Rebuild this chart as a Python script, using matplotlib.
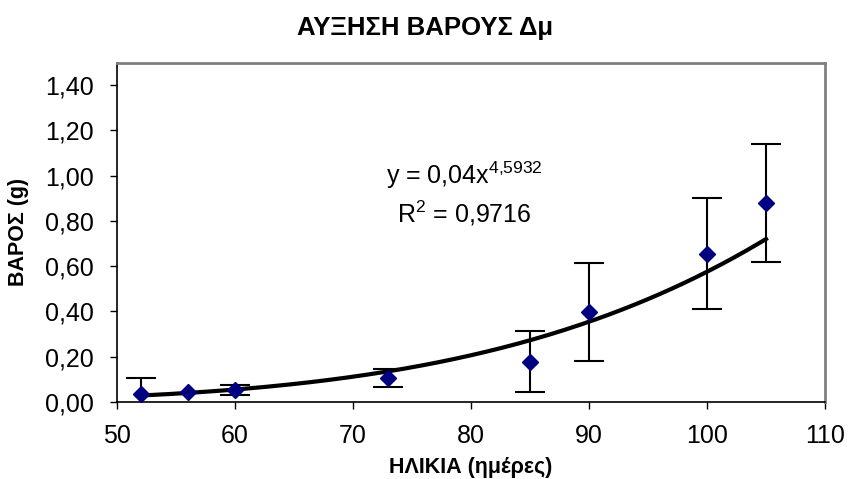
import numpy as np
import matplotlib
matplotlib.use('Agg')
import matplotlib.pyplot as plt
from matplotlib.ticker import FuncFormatter, MultipleLocator

plt.rcParams['font.family'] = ['Liberation Sans', 'DejaVu Sans']
plt.rcParams['mathtext.fontset'] = 'custom'
plt.rcParams['mathtext.rm'] = 'Liberation Sans'
plt.rcParams['mathtext.it'] = 'Liberation Sans'

# age (days) and weight (g)
age = [52, 56, 60, 73, 85, 90, 100, 105]
weight = [0.035, 0.044, 0.053, 0.106, 0.177, 0.398, 0.655, 0.88]
# no visible error bar at 56 days
weight_err = [0.07, np.nan, 0.02, 0.04, 0.135, 0.215, 0.245, 0.26]

# power trend line, as shown in the chart label
trend_exp = 4.5932
trend_at_end = 0.72

x_fit = np.linspace(age[0], age[-1], 200)
coef = trend_at_end / age[-1] ** trend_exp
y_fit = coef * x_fit ** trend_exp

fig = plt.figure(figsize=(8.5, 4.79), dpi=100)
ax = fig.add_axes([117 / 850, 1 - 402 / 479, (825 - 117) / 850, (402 - 62.5) / 479])

ax.plot(x_fit, y_fit, color='black', lw=3, zorder=2)
ax.errorbar(age, weight, yerr=weight_err, fmt='none', ecolor='black',
            elinewidth=1.5, capsize=11, capthick=1.5, zorder=3)
ax.plot(age, weight, linestyle='none', marker='D', markersize=8,
        color='#000080', zorder=4)

ax.set_xlim(50, 110)
ax.set_ylim(0, 1.5)
ax.xaxis.set_major_locator(MultipleLocator(10))
ax.set_yticks(np.arange(0, 1.41, 0.2))
ax.yaxis.set_major_formatter(FuncFormatter(lambda v, p: f'{v:.2f}'.replace('.', ',')))

for side in ['top', 'right']:
    ax.spines[side].set_color('#808080')
    ax.spines[side].set_linewidth(2)
for side in ['left', 'bottom']:
    ax.spines[side].set_color('black')
    ax.spines[side].set_linewidth(1.2)
ax.tick_params(direction='out', length=5, width=1, labelsize=18)
ax.tick_params(axis='x', pad=11)
ax.tick_params(axis='y', pad=12)

fig.text(425 / 850, 1 - 28 / 479, 'ΑΥΞΗΣΗ ΒΑΡΟΥΣ Δμ', fontsize=18.5,
         fontweight='bold', ha='center', va='center')
ax.set_xlabel('ΗΛΙΚΙΑ (ημέρες)', fontsize=15.5, fontweight='bold', labelpad=6)
ax.set_ylabel('ΒΑΡΟΣ (g)', fontsize=15.5, fontweight='bold', labelpad=11)

ax.text(79.4, 1.0, 'y = 0,04x$^{4{,}5932}$', fontsize=18, ha='center', va='center')
ax.text(79.4, 0.835, 'R$^2$ = 0,9716', fontsize=18, ha='center', va='center')

fig.savefig('out.png', dpi=100)
